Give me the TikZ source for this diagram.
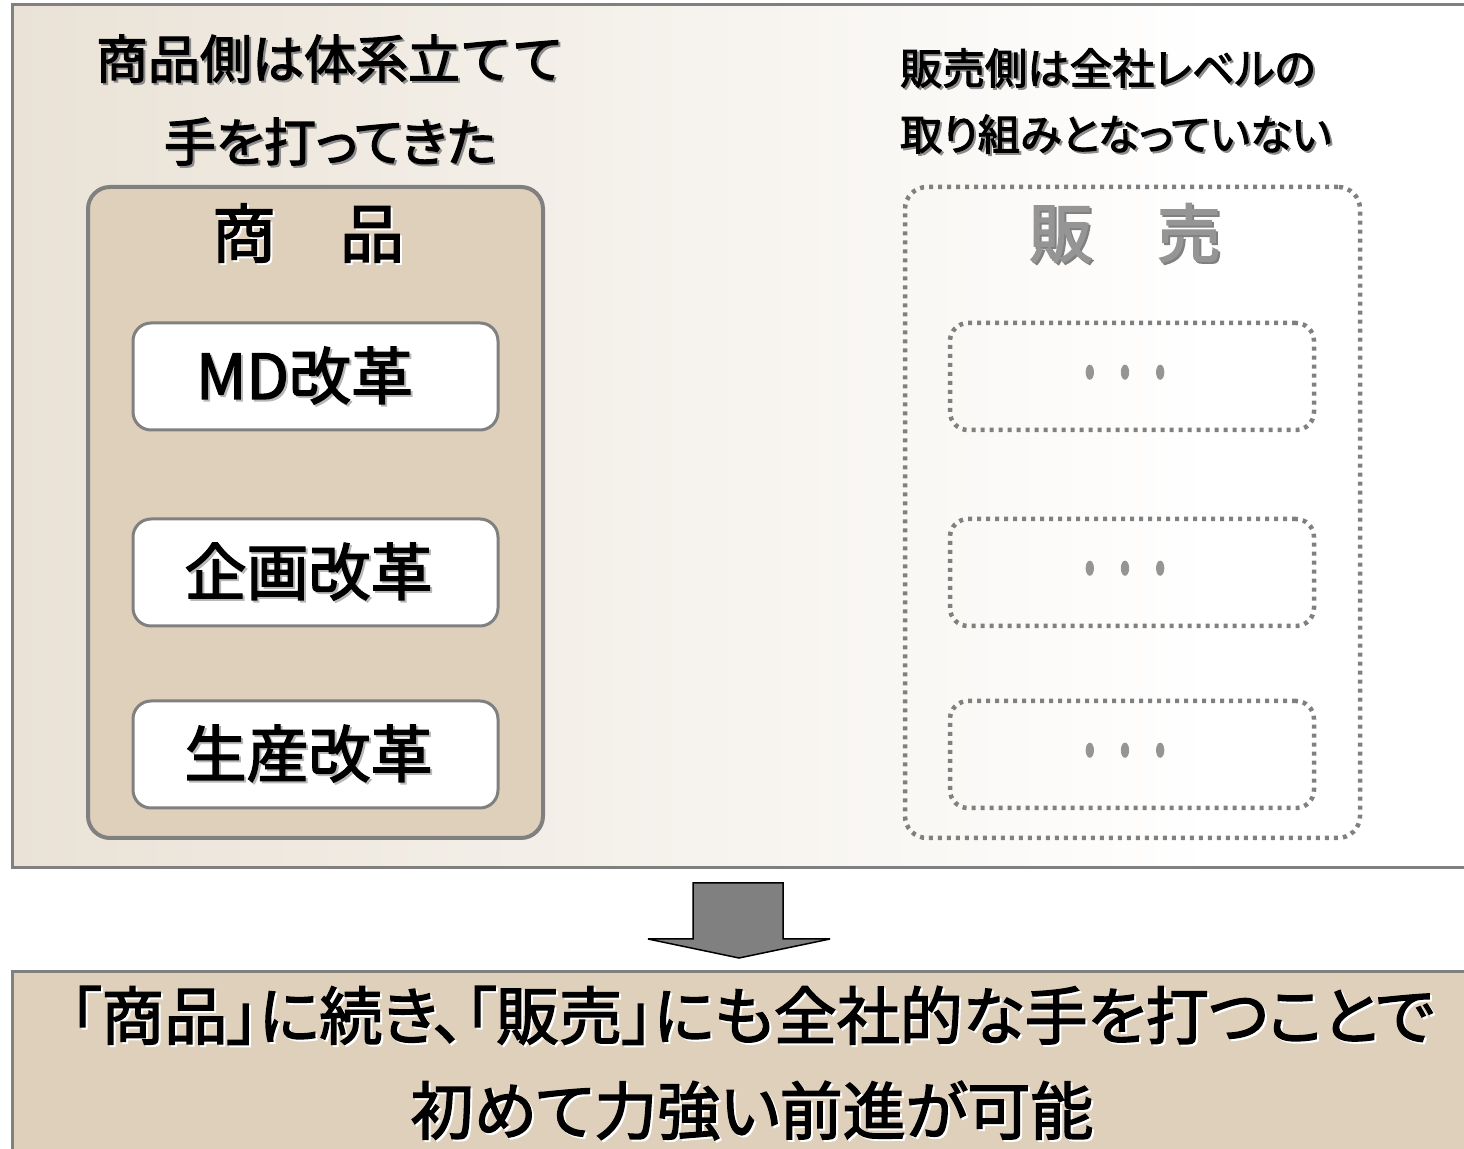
\documentclass[tikz,border=0pt]{standalone}
\usepackage{fontspec}
\setmainfont{Noto Sans CJK JP}[FakeBold=2.3]
\newfontfamily\jpp{Noto Sans CJK JP}[RawFeature=+palt, FakeBold=2.3]
\definecolor{tanfill}{HTML}{DFD0BB}
\definecolor{panelL}{HTML}{EAE2D6}
\definecolor{bordergray}{HTML}{808080}
\definecolor{dotgray}{HTML}{959595}
\definecolor{shadowgray}{HTML}{8C8C8C}
\definecolor{lightshadow}{HTML}{B8B8B8}
\pgfdeclarehorizontalshading{panelshade}{100bp}{color(0bp)=(panelL); color(25bp)=(panelL); color(66bp)=(white); color(100bp)=(white)}
\newcommand\shd[2]{\leavevmode\rlap{\kern1pt\raisebox{-1pt}{\textcolor{#1}{#2}}}#2}
\tikzset{
  bigbox/.style={rounded corners=11pt, minimum width=227.5pt, minimum height=325.5pt, inner sep=0pt},
  itembox/.style={draw=bordergray, line width=1.5pt, fill=white, rounded corners=9pt, minimum width=182.5pt, minimum height=53.5pt, inner sep=0pt, font=\fontsize{31pt}{36pt}\selectfont},
  dotbox/.style={draw=bordergray, line width=2.25pt, dash pattern=on 2pt off 2.5pt, rounded corners=9pt, minimum width=182pt, minimum height=53.5pt, inner sep=0pt},
  dotted box/.style={draw=bordergray, line width=2.25pt, dash pattern=on 2pt off 2.5pt},
  dotstext/.style={text=dotgray, font=\fontsize{16pt}{20pt}\selectfont},
}
\begin{document}
\begin{tikzpicture}[x=0.5pt,y=-0.5pt]
\useasboundingbox (0,0) rectangle (1464,1149);
\clip (0,0) rectangle (1464,1149);
% top panel
\path[draw=bordergray, line width=1.5pt, shade, shading=panelshade] (12,5) rectangle (1480,868);
% titles
\node[align=center, font=\fontsize{26pt}{41.5pt}\selectfont] (ltitle) at (330,101)
  {\shd{shadowgray}{商品側は体系立てて}\\\jpp\shd{shadowgray}{手を打ってきた}};
\node[align=left, anchor=west, font=\jpp\fontsize{21.2pt}{33pt}\selectfont] (rtitle) at (893,102)
  {\shd{shadowgray}{販売側は全社レベルの}\\\shd{shadowgray}{取り組みとなっていない}};
% left box
\node[bigbox, draw=bordergray, line width=2pt, fill=tanfill] (shohin) at (315.5,512.5) {};
\node[font=\fontsize{32pt}{36pt}\selectfont] (shohinlbl) at (308,234) {\shd{white}{商　品}};
\node[itembox] (md) at (315.5,376.5) {\shd{lightshadow}{MD改革}\kern11pt};
\node[itembox] (kikaku) at (315.5,572.5) {\shd{lightshadow}{企画改革}\kern7pt};
\node[itembox] (seisan) at (315.5,754.5) {\shd{lightshadow}{生産改革}\kern7pt};
% right box
\node[bigbox, dotted box] (hanbai) at (1132.5,512.5) {};
\node[font=\fontsize{32pt}{36pt}\selectfont, text=dotgray] (hanbailbl) at (1125,234) {\shd{bordergray}{販　売}};
\node[dotbox] (h1) at (1132,376.5) {};
\node[dotbox] (h2) at (1132,572.5) {};
\node[dotbox] (h3) at (1132,754.5) {};
\node[dotstext] (d1) at (1125,381) {\scalebox{1.1}[2]{・・・}};
\node[dotstext] (d2) at (1125,577) {\scalebox{1.1}[2]{・・・}};
\node[dotstext] (d3) at (1125,759) {\scalebox{1.1}[2]{・・・}};
% arrow
\draw[fill=bordergray, draw=black, line width=0.75pt, line join=miter, miter limit=1.5]
  (693,883) -- (783,883) -- (783,939) -- (830,939) -- (739,958) -- (648,939) -- (693,939) -- cycle;
% bottom box
\path[draw=bordergray, line width=1.5pt, fill=tanfill] (12,972) rectangle (1480,1170);
\node[align=center, font=\jpp\fontsize{31.5pt}{47.5pt}\selectfont] (concl) at (752,1064)
  {\shd{white}{「商品」に続き、「販売」にも全社的な手を打つことで}\\\shd{white}{初めて力強い前進が可能}};
\end{tikzpicture}
\end{document}
